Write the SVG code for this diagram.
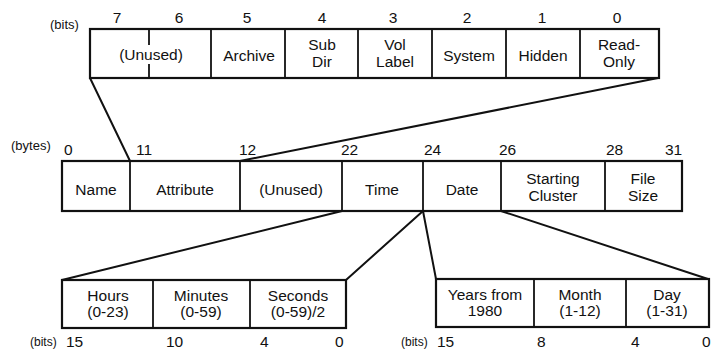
<svg xmlns="http://www.w3.org/2000/svg" width="712" height="350" viewBox="0 0 712 350">
<style>
text{font-family:"Liberation Sans",Arial,sans-serif;fill:#111;}
.t{font-size:15.5px;text-anchor:middle;}
.n{font-size:15.5px;}
.nc{font-size:15.5px;text-anchor:middle;}
.u{font-size:13px;}
.box{fill:#fff;stroke:#111;stroke-width:2.2;}
.div{stroke:#111;stroke-width:1.8;fill:none;}
.con{stroke:#111;stroke-width:2;fill:none;stroke-linecap:round;}
</style>
<rect width="712" height="350" fill="#fff"/>

<g id="connectors">
<line class="con" x1="90" y1="78" x2="130" y2="161"/>
<line class="con" x1="658" y1="78" x2="240" y2="161"/>
<line class="con" x1="342" y1="211" x2="62" y2="280"/>
<line class="con" x1="423" y1="211" x2="346" y2="280"/>
<line class="con" x1="423" y1="211" x2="436" y2="279"/>
<line class="con" x1="501" y1="211" x2="708" y2="279"/>
</g>

<g id="attribute-byte">
<rect class="box" x="90" y="29" width="569" height="49"/>
<line class="div" x1="149" y1="29" x2="149" y2="45"/>
<line class="div" x1="149" y1="64" x2="149" y2="78"/>
<line class="div" x1="211" y1="29" x2="211" y2="78"/>
<line class="div" x1="285" y1="29" x2="285" y2="78"/>
<line class="div" x1="358" y1="29" x2="358" y2="78"/>
<line class="div" x1="432" y1="29" x2="432" y2="78"/>
<line class="div" x1="506" y1="29" x2="506" y2="78"/>
<line class="div" x1="580" y1="29" x2="580" y2="78"/>
<text class="u" x="50" y="29">(bits)</text>
<text class="nc" x="117" y="22.5">7</text>
<text class="nc" x="179" y="22.5">6</text>
<text class="nc" x="247" y="22.5">5</text>
<text class="nc" x="322" y="22.5">4</text>
<text class="nc" x="393" y="22.5">3</text>
<text class="nc" x="467" y="22.5">2</text>
<text class="nc" x="542" y="22.5">1</text>
<text class="nc" x="617" y="22.5">0</text>
<text class="t" x="151" y="60">(Unused)</text>
<text class="t" x="249" y="61">Archive</text>
<text class="t" x="322" y="50">Sub</text>
<text class="t" x="322" y="67">Dir</text>
<text class="t" x="395" y="50">Vol</text>
<text class="t" x="395" y="67">Label</text>
<text class="t" x="469" y="61">System</text>
<text class="t" x="543" y="61">Hidden</text>
<text class="t" x="619" y="50">Read-</text>
<text class="t" x="619" y="67">Only</text>
</g>

<g id="directory-entry">
<rect class="box" x="62" y="161" width="620" height="50"/>
<line class="div" x1="130" y1="161" x2="130" y2="211"/>
<line class="div" x1="240" y1="161" x2="240" y2="211"/>
<line class="div" x1="342" y1="161" x2="342" y2="211"/>
<line class="div" x1="423" y1="161" x2="423" y2="211"/>
<line class="div" x1="501" y1="161" x2="501" y2="211"/>
<line class="div" x1="605" y1="161" x2="605" y2="211"/>
<text class="u" x="11" y="150">(bytes)</text>
<text class="n" x="64" y="155">0</text>
<text class="n" x="136" y="155">11</text>
<text class="n" x="239" y="155">12</text>
<text class="n" x="341" y="155">22</text>
<text class="n" x="424" y="155">24</text>
<text class="n" x="499" y="155">26</text>
<text class="n" x="606" y="155">28</text>
<text class="n" x="665" y="155">31</text>
<text class="t" x="96" y="195">Name</text>
<text class="t" x="185" y="195">Attribute</text>
<text class="t" x="291" y="195">(Unused)</text>
<text class="t" x="382" y="195">Time</text>
<text class="t" x="462" y="195">Date</text>
<text class="t" x="553" y="184">Starting</text>
<text class="t" x="553" y="201">Cluster</text>
<text class="t" x="643" y="184">File</text>
<text class="t" x="643" y="201">Size</text>
</g>

<g id="time-field">
<rect class="box" x="62" y="280" width="284" height="48"/>
<line class="div" x1="153" y1="280" x2="153" y2="328"/>
<line class="div" x1="250" y1="280" x2="250" y2="328"/>
<text class="t" x="108" y="301">Hours</text>
<text class="t" x="108" y="317">(0-23)</text>
<text class="t" x="201" y="301">Minutes</text>
<text class="t" x="201" y="317">(0-59)</text>
<text class="t" x="298" y="301">Seconds</text>
<text class="t" x="298" y="317">(0-59)/2</text>
<text class="u" x="30" y="346" style="font-size:12px">(bits)</text>
<text class="n" x="66" y="347">15</text>
<text class="n" x="166" y="347">10</text>
<text class="n" x="260" y="347">4</text>
<text class="n" x="335" y="347">0</text>
</g>

<g id="date-field">
<rect class="box" x="436" y="279" width="273" height="48"/>
<line class="div" x1="534" y1="279" x2="534" y2="327"/>
<line class="div" x1="626" y1="279" x2="626" y2="327"/>
<text class="t" x="485" y="300">Years from</text>
<text class="t" x="485" y="316">1980</text>
<text class="t" x="580" y="300">Month</text>
<text class="t" x="580" y="316">(1-12)</text>
<text class="t" x="667" y="300">Day</text>
<text class="t" x="667" y="316">(1-31)</text>
<text class="u" x="401" y="346" style="font-size:12px">(bits)</text>
<text class="n" x="437" y="347">15</text>
<text class="n" x="537" y="347">8</text>
<text class="n" x="631" y="347">4</text>
<text class="n" x="702" y="347">0</text>
</g>
</svg>
